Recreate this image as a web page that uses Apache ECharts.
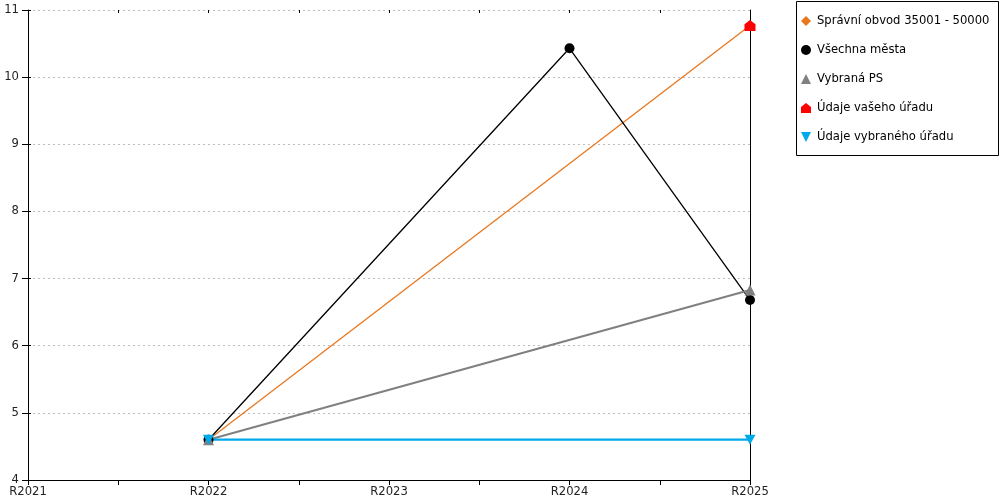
<!DOCTYPE html>
<html><head><meta charset="utf-8">
<script src="https://cdn.jsdelivr.net/npm/echarts@6/dist/echarts.min.js"></script>
<style>html,body{margin:0;padding:0;background:#fff}#c{width:1000px;height:500px}</style>
</head><body><div id="c"></div>
<script>
const categories = ['R2021','R2022','R2023','R2024','R2025'];
const seriesNames = ['Správní obvod 35001 - 50000','Všechna města','Vybraná PS','Údaje vašeho úřadu','Údaje vybraného úřadu'];
const spravniObvod = [[1,4.6],[4,10.77]];
const vsechnaMesta = [[1,4.6],[3,10.43],[4,6.68]];
const vybranaPS = [[1,4.6],[4,6.83]];
const vasUrad = [[4,10.77]];
const vybranyUrad = [[1,4.6],[4,4.6]];
const yTicks = [4,5,6,7,8,9,10,11];

const FONT = 'DejaVu Sans';
const FS = 11.6;
const house = 'path://M5,0 L10,4 L10,10 L0,10 L0,4 Z';
const colors = ['#e8771e','#000000','#808080','#ff0000','#00a9e8'];
const symbols = ['diamond','circle','triangle',house,'path://M0,0 L10,0 L5,10 Z'];

const chart = echarts.init(document.getElementById('c'), null, {renderer:'canvas'});
const xBase = {type:'value', min:0, max:categories.length-1, interval:0.5, gridIndex:0};
const yBase = {type:'value', min:yTicks[0], max:yTicks[yTicks.length-1], interval:1};
chart.setOption({
  animation:false,
  textStyle:{fontFamily:FONT},
  grid:{left:28, right:250, top:10, bottom:20, containLabel:false},
  xAxis:[
    Object.assign({}, xBase, {
      axisLine:{lineStyle:{color:'#000',width:1}},
      axisTick:{show:true, length:5, lineStyle:{color:'#000'}},
      axisLabel:{show:true, color:'#222', fontFamily:FONT, fontSize:FS, margin:6,
        formatter:v => (Math.abs(v-Math.round(v))<1e-6 ? categories[Math.round(v)] : '')},
      splitLine:{show:false}
    }),
    Object.assign({}, xBase, {
      axisLine:{show:false},
      axisTick:{show:true, inside:true, length:3, lineStyle:{color:'#000'}},
      axisLabel:{show:false}, splitLine:{show:false}
    })
  ],
  yAxis:[
    Object.assign({}, yBase, {
      position:'left',
      axisLine:{show:true, lineStyle:{color:'#000'}},
      axisTick:{show:true, length:6, lineStyle:{color:'#000'}},
      axisLabel:{color:'#222', fontFamily:FONT, fontSize:FS, margin:9},
      splitLine:{show:true, lineStyle:{color:'#bdbdbd', type:[2,3], width:1}}
    }),
    Object.assign({}, yBase, {
      position:'left',
      axisLine:{show:false},
      axisTick:{show:true, inside:true, length:3, lineStyle:{color:'#000'}},
      axisLabel:{show:false}, splitLine:{show:false}
    }),
    Object.assign({}, yBase, {
      position:'right',
      axisLine:{show:true, lineStyle:{color:'#000'}},
      axisTick:{show:false}, axisLabel:{show:false}, splitLine:{show:false}
    })
  ],
  legend:{
    orient:'vertical', left:801, top:15, itemWidth:10, itemHeight:10, itemGap:17,
    padding:0,
    textStyle:{color:'#000', fontFamily:FONT, fontSize:FS, lineHeight:10, padding:[0,0,0,1]},
    data: seriesNames.map((n,i)=>({name:n, icon:symbols[i], itemStyle:{color:colors[i]}}))
  },
  graphic:[{type:'rect', shape:{x:796.5, y:1.5, width:202, height:154}, style:{fill:'none', stroke:'#000', lineWidth:1}}],
  series:[
    {name:seriesNames[0], type:'line', data:spravniObvod, symbol:symbols[0], symbolSize:10,
      lineStyle:{color:colors[0], width:1.3}, itemStyle:{color:colors[0]}},
    {name:seriesNames[1], type:'line', data:vsechnaMesta, symbol:symbols[1], symbolSize:10,
      lineStyle:{color:colors[1], width:1.3}, itemStyle:{color:colors[1]}},
    {name:seriesNames[2], type:'line', data:vybranaPS, symbol:symbols[2], symbolSize:11,
      lineStyle:{color:colors[2], width:2}, itemStyle:{color:colors[2]}},
    {name:seriesNames[3], type:'line', data:vasUrad, symbol:symbols[3], symbolSize:11,
      lineStyle:{color:colors[3], width:2}, itemStyle:{color:colors[3]}},
    {name:seriesNames[4], type:'line', data:vybranyUrad, symbol:symbols[4], symbolSize:[11,10],
      lineStyle:{color:colors[4], width:2.2}, itemStyle:{color:colors[4]}}
  ]
});
</script></body></html>
